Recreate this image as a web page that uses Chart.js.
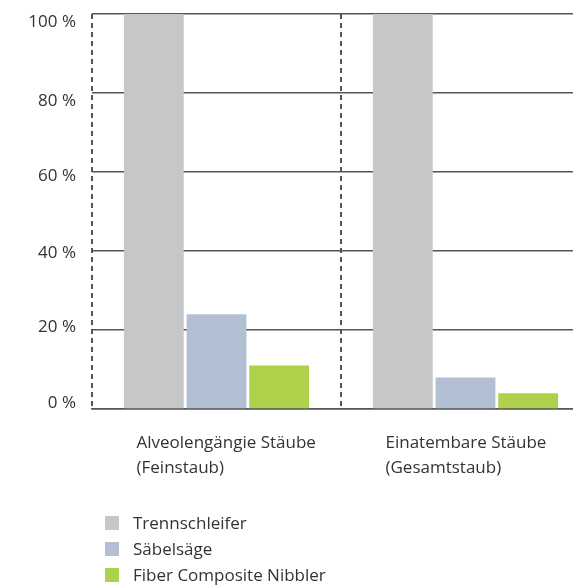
<!DOCTYPE html>
<html>
<head>
<meta charset="utf-8">
<script src="https://cdn.jsdelivr.net/npm/chart.js@4.4.0/dist/chart.umd.min.js"></script>
<style>
  html, body { margin: 0; padding: 0; overflow: hidden; background: #fff; }
  #wrap { position: relative; width: 600px; height: 585px; }
  #legend { position: absolute; left: 105px; top: 510px; font-family: 'Open Sans', sans-serif; font-size: 17px; color: #333; }
  .item { height: 26px; line-height: 26px; display: flex; align-items: center; }
  .box { width: 14px; height: 14px; margin-right: 14px; }
</style>
</head>
<body>
<div id="wrap">
  <canvas id="myChart" width="600" height="585"></canvas>
  <div id="legend"></div>
</div>
<script>
const categories = [['Alveolengängie Stäube', '(Feinstaub)'], ['Einatembare Stäube', '(Gesamtstaub)']];
const seriesNames = ['Trennschleifer', 'Säbelsäge', 'Fiber Composite Nibbler'];
const trennschleifer = [100, 100];
const saebelsaege = [24, 8];
const nibbler = [11, 4];
const yTicks = [0, 20, 40, 60, 80, 100];
const colors = ['#c6c7c9', '#b3c0d3', '#aed14b'];

const ctx = document.getElementById('myChart');
const values = [trennschleifer, saebelsaege, nibbler];
// the tick labels in the original sit a little off their grid lines
const yLabelShift = [-6, -3, 2, 4, 8, 8];

new Chart(ctx, {
    type: 'bar',
    data: {
        labels: categories,
        datasets: seriesNames.map((name, i) => ({
            label: name,
            data: values[i],
            backgroundColor: colors[i],
            categoryPercentage: 0.755,
            barPercentage: 0.955
        }))
    },
    options: {
        responsive: false,
        animation: false,
        layout: { padding: { top: 14, right: 10, left: 0, bottom: 0 } },
        scales: {
            x: {
                offset: true,
                grid: { display: false },
                border: { display: true, color: '#555', width: 1.5 },
                ticks: {
                    align: 'start',
                    labelOffset: -80,
                    padding: 13,
                    color: '#333',
                    font: { family: 'Open Sans', size: 17, lineHeight: 1.5 }
                },
                afterFit: function(scale) {
                    scale.height = 176;
                    scale.paddingLeft = 0;
                    scale.paddingRight = 0;
                }
            },
            y: {
                min: 0,
                max: 100,
                afterBuildTicks: function(scale) {
                    scale.ticks = yTicks.map(v => ({ value: v }));
                },
                grid: { color: '#555', lineWidth: 1.5, drawTicks: false },
                border: { display: false },
                ticks: {
                    padding: 16,
                    color: '#333',
                    font: { family: 'Open Sans', size: 17 },
                    callback: function(v) { return v + ' %'; }
                },
                afterFit: function(scale) {
                    scale.width = 92;
                    scale.paddingTop = 0;
                    scale.paddingBottom = 0;
                }
            }
        },
        plugins: {
            legend: { display: false },
            tooltip: { enabled: false }
        }
    },
    plugins: [{
        id: 'shiftY',
        beforeDraw: function(chart) {
            const items = chart.scales.y.getLabelItems();
            items.forEach((it, i) => {
                if (!it._shifted) {
                    it.options.translation[1] += yLabelShift[i] || 0;
                    it._shifted = true;
                }
            });
        }
    }, {
        id: 'dashedX',
        beforeDatasetsDraw: function(chart) {
            // dashed separators at the category boundaries
            const x = chart.scales.x, area = chart.chartArea, c = chart.ctx;
            const half = (x.getPixelForValue(1) - x.getPixelForValue(0)) / 2;
            c.save();
            c.strokeStyle = '#555';
            c.lineWidth = 2;
            c.setLineDash([5, 4]);
            for (let i = 0; i <= categories.length; i++) {
                const p = Math.round(x.getPixelForValue(0) - half + i * 2 * half);
                c.beginPath();
                c.moveTo(p, area.top);
                c.lineTo(p, area.bottom);
                c.stroke();
            }
            c.restore();
        }
    }]
});

const legend = document.getElementById('legend');
seriesNames.forEach((name, i) => {
    const row = document.createElement('div');
    row.className = 'item';
    row.innerHTML = '<span class="box" style="background:' + colors[i] + '"></span>' + name;
    legend.appendChild(row);
});
</script>
</body>
</html>
